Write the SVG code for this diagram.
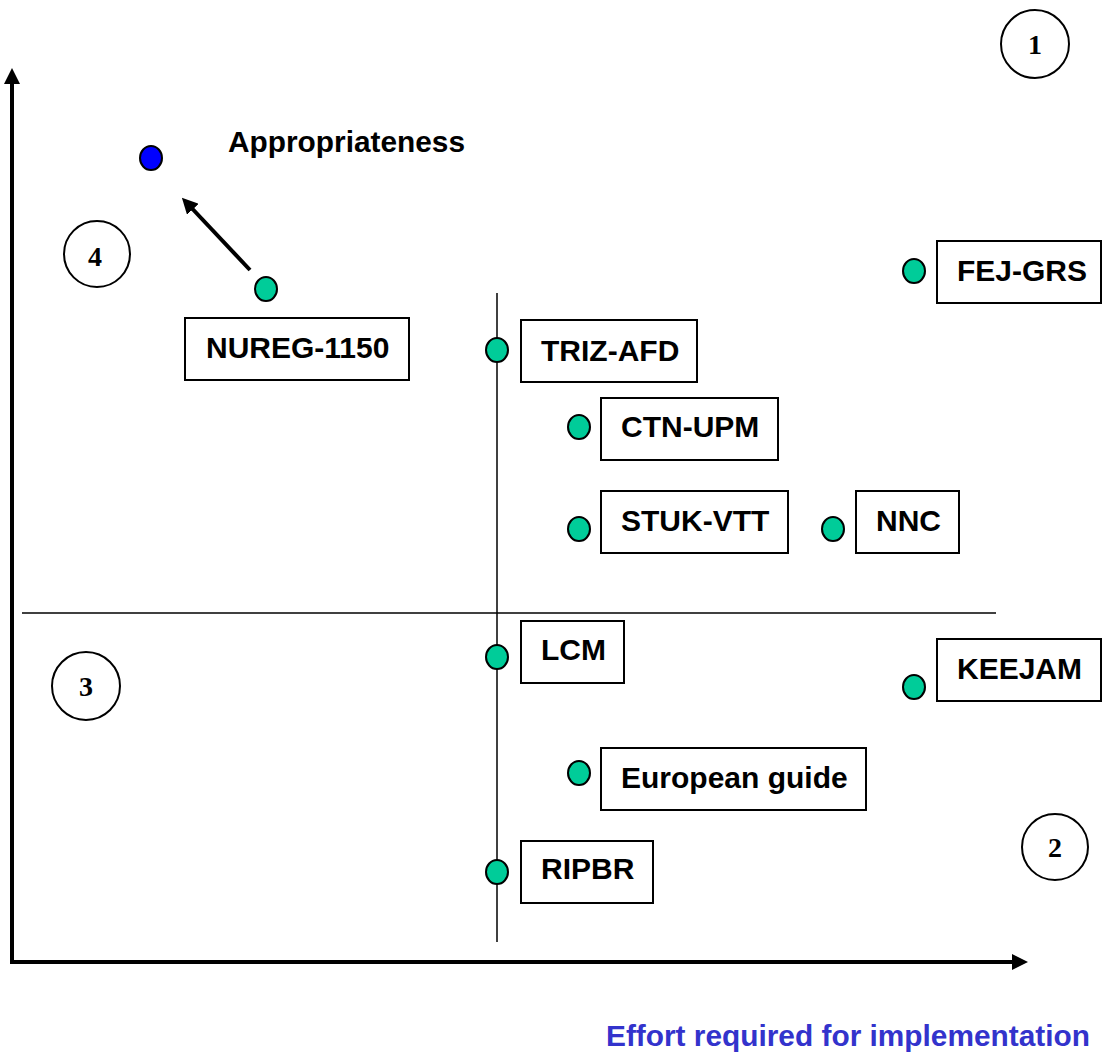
<svg xmlns="http://www.w3.org/2000/svg" width="1102" height="1052" viewBox="0 0 1102 1052">
<style>
.lbl{font-family:"Liberation Sans",Arial,sans-serif;font-weight:bold;font-size:30px;fill:#000}
.box{fill:#fff;stroke:#000;stroke-width:2}
.dot{fill:#00cc99;stroke:#000;stroke-width:2}
.q{fill:#fff;stroke:#000;stroke-width:2}
.qn{font-family:"Liberation Serif","Times New Roman",serif;font-weight:bold;font-size:28px;text-anchor:middle}
.ax{stroke:#000;stroke-width:4;fill:none}
.thin{stroke:#000;stroke-width:1.5;fill:none}
</style>
<defs>
<marker id="ah" markerWidth="4" markerHeight="4" refX="2.5" refY="2" orient="auto" markerUnits="strokeWidth">
<path d="M0,0 L4,2 L0,4 z" fill="#000"/>
</marker>
</defs>
<rect width="1102" height="1052" fill="#fff"/>
<g id="connectors">
<line class="ax" x1="12" y1="962" x2="12" y2="74" marker-end="url(#ah)"/>
<line class="ax" x1="10" y1="962" x2="1022" y2="962" marker-end="url(#ah)"/>
<line class="thin" x1="497" y1="293" x2="497" y2="942"/>
<line class="thin" x1="22" y1="613" x2="996" y2="613"/>
<line class="ax" x1="250" y1="270" x2="186" y2="202" marker-end="url(#ah)"/>
</g>
<g id="appropriateness">
<ellipse cx="151" cy="158" rx="11" ry="12" fill="#0000ff" stroke="#000" stroke-width="2"/>
<text class="lbl" x="228" y="152" textLength="237" lengthAdjust="spacingAndGlyphs">Appropriateness</text>
</g>
<g id="q1"><circle class="q" cx="1035" cy="44" r="34"/><text class="qn" x="1035" y="54">1</text></g>
<g id="q2"><circle class="q" cx="1055" cy="847" r="33"/><text class="qn" x="1055" y="857">2</text></g>
<g id="q3"><circle class="q" cx="86" cy="686" r="34"/><text class="qn" x="86" y="696">3</text></g>
<g id="q4"><circle class="q" cx="97" cy="254" r="33"/><text class="qn" x="95" y="266">4</text></g>
<g id="nureg">
<ellipse class="dot" cx="266" cy="289" rx="11" ry="12"/>
<rect class="box" x="185" y="318" width="224" height="62"/>
<text class="lbl" x="206" y="358">NUREG-1150</text>
</g>
<g id="triz">
<ellipse class="dot" cx="497" cy="350" rx="11" ry="12"/>
<rect class="box" x="521" y="320" width="176" height="62"/>
<text class="lbl" x="541" y="361">TRIZ-AFD</text>
</g>
<g id="ctn">
<ellipse class="dot" cx="579" cy="427" rx="11" ry="12"/>
<rect class="box" x="601" y="398" width="177" height="62"/>
<text class="lbl" x="621" y="437">CTN-UPM</text>
</g>
<g id="stuk">
<ellipse class="dot" cx="579" cy="529" rx="11" ry="12"/>
<rect class="box" x="601" y="491" width="187" height="62"/>
<text class="lbl" x="621" y="531">STUK-VTT</text>
</g>
<g id="nnc">
<ellipse class="dot" cx="833" cy="529" rx="11" ry="12"/>
<rect class="box" x="856" y="491" width="103" height="62"/>
<text class="lbl" x="876" y="531">NNC</text>
</g>
<g id="fej">
<ellipse class="dot" cx="914" cy="271" rx="11" ry="12"/>
<rect class="box" x="937" y="241" width="164" height="62"/>
<text class="lbl" x="957" y="281">FEJ-GRS</text>
</g>
<g id="lcm">
<ellipse class="dot" cx="497" cy="657" rx="11" ry="12"/>
<rect class="box" x="521" y="621" width="103" height="62"/>
<text class="lbl" x="541" y="660">LCM</text>
</g>
<g id="keejam">
<ellipse class="dot" cx="914" cy="687" rx="11" ry="12"/>
<rect class="box" x="937" y="639" width="164" height="62"/>
<text class="lbl" x="957" y="679">KEEJAM</text>
</g>
<g id="european">
<ellipse class="dot" cx="579" cy="773" rx="11" ry="12"/>
<rect class="box" x="601" y="748" width="265" height="62"/>
<text class="lbl" x="621" y="788">European guide</text>
</g>
<g id="ripbr">
<ellipse class="dot" cx="497" cy="872" rx="11" ry="12"/>
<rect class="box" x="521" y="841" width="132" height="62"/>
<text class="lbl" x="541" y="879">RIPBR</text>
</g>
<g id="xlabel">
<text x="606" y="1046" textLength="484" lengthAdjust="spacingAndGlyphs" style="font-family:'Liberation Sans',Arial,sans-serif;font-weight:bold;font-size:30px;fill:#3333cc">Effort required for implementation</text>
</g>
</svg>
